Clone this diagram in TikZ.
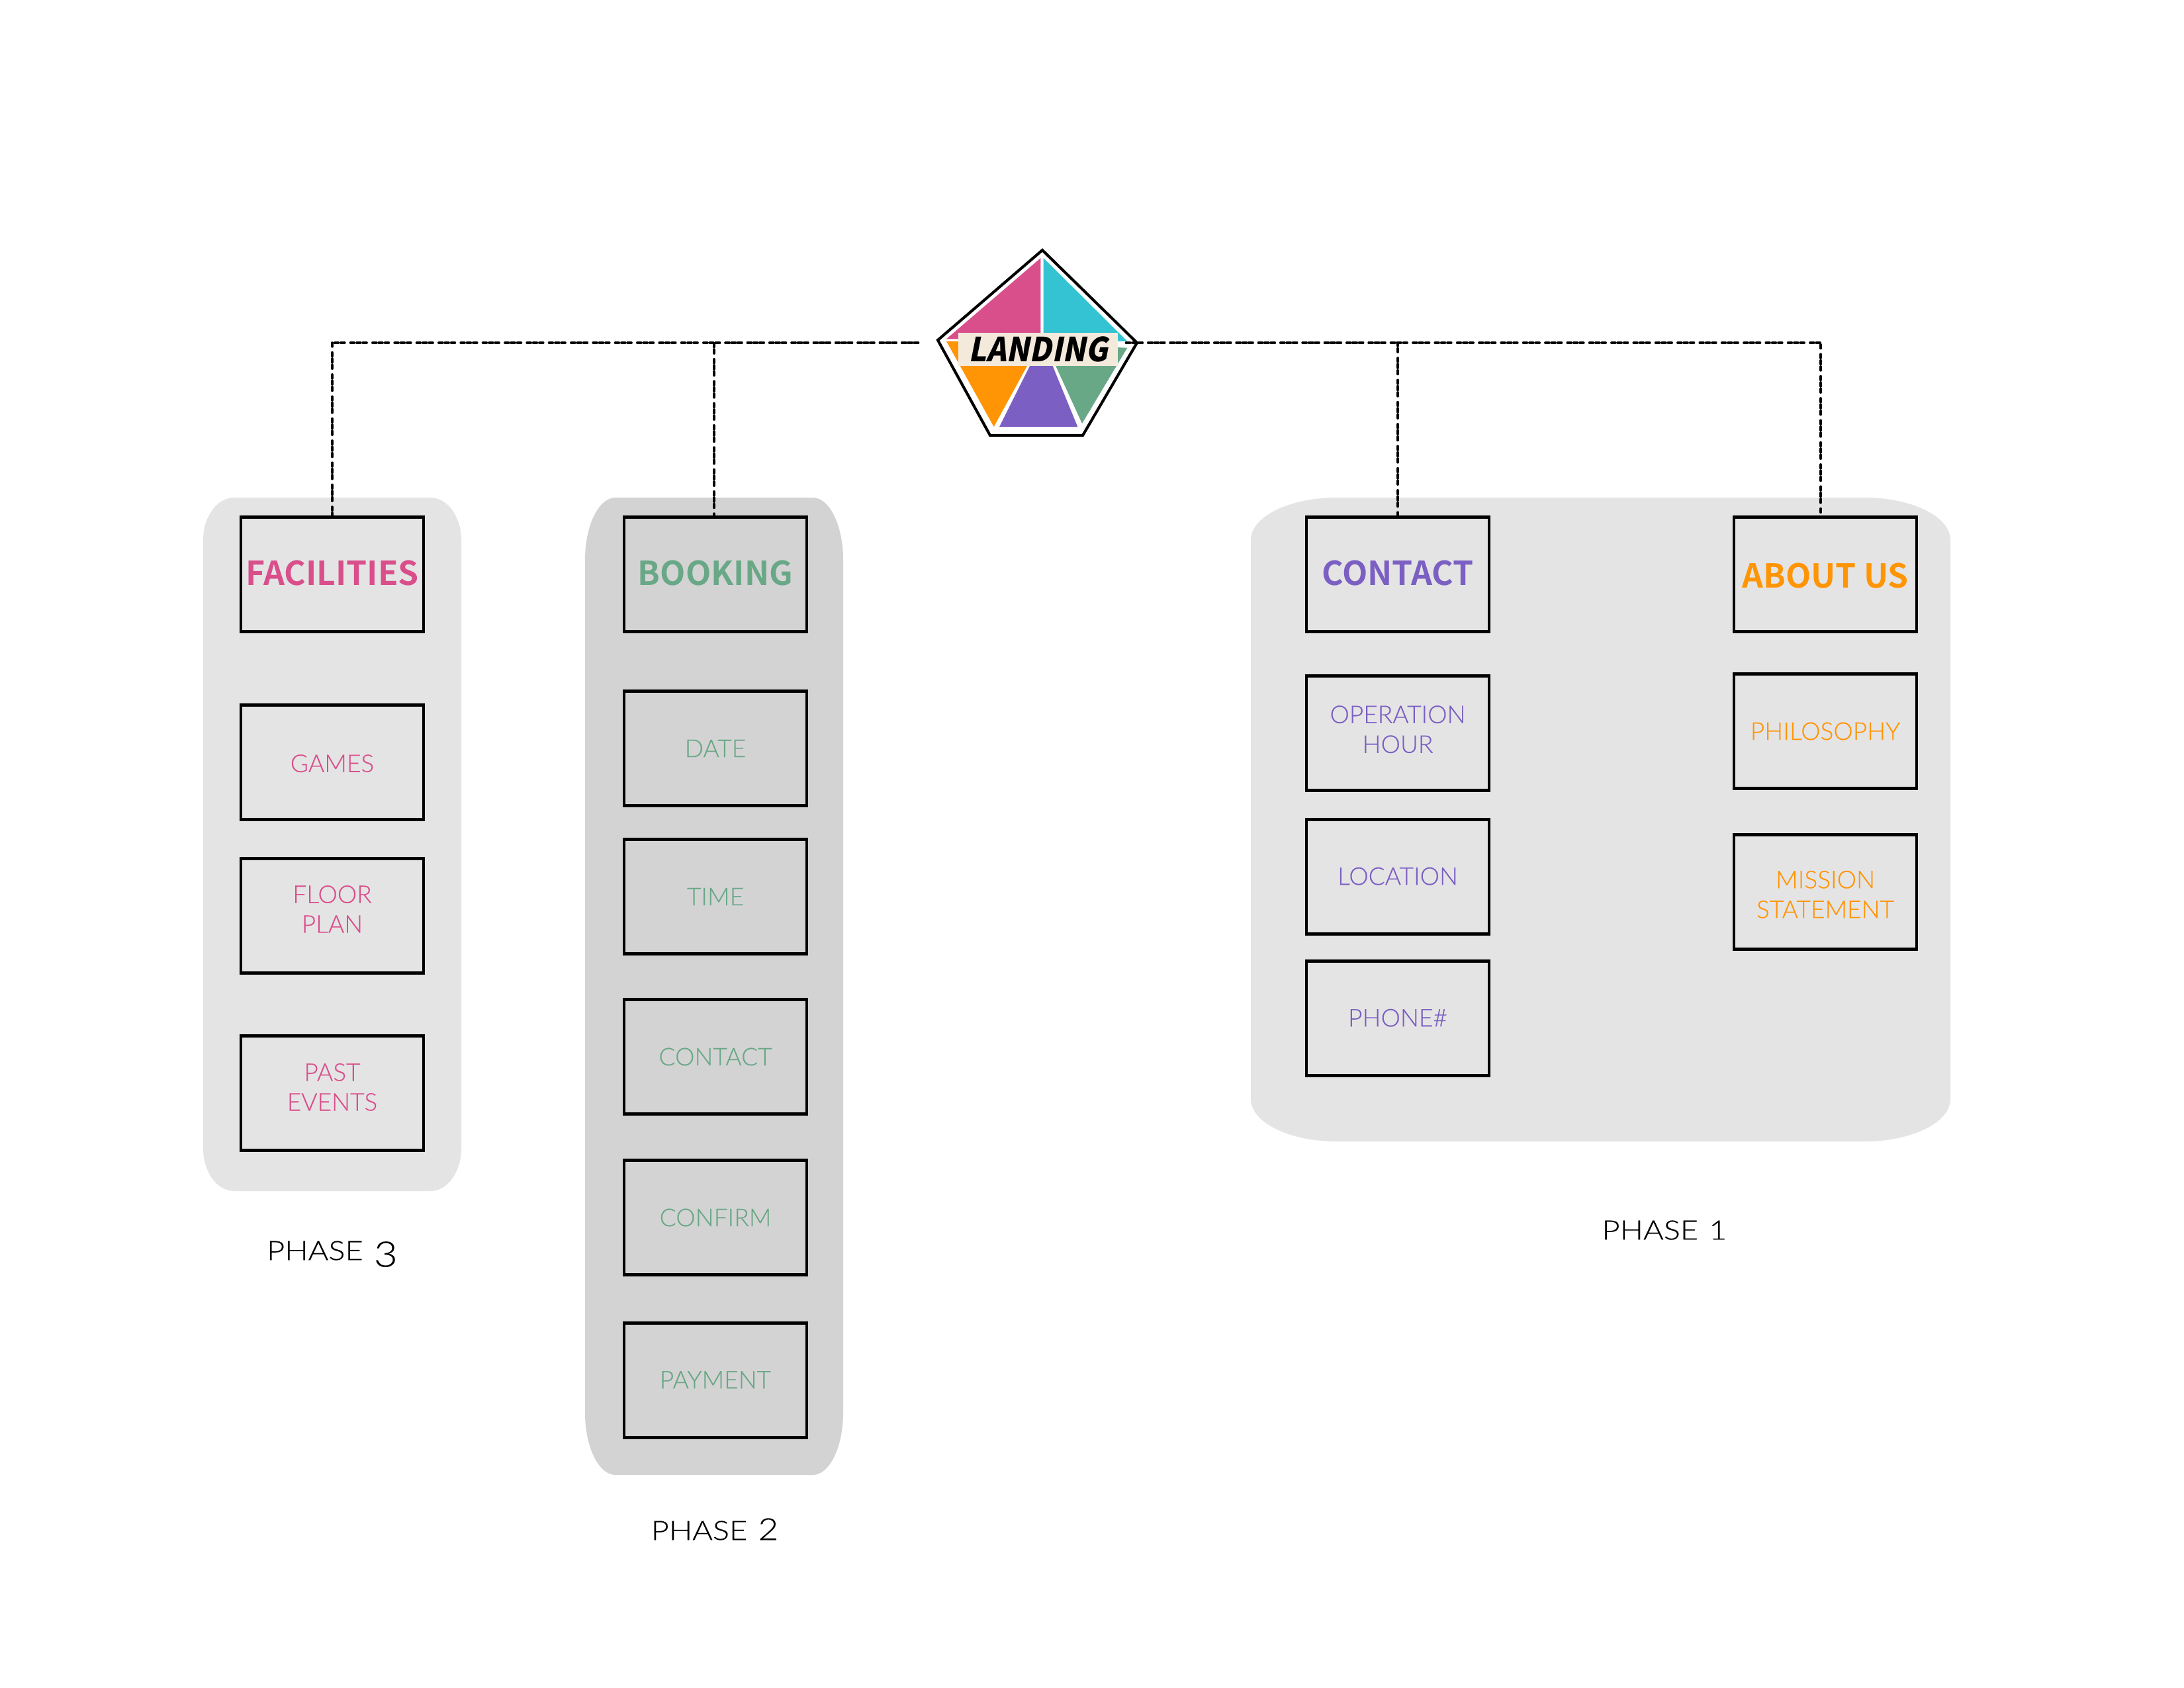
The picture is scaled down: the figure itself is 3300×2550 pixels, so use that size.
\documentclass[tikz,border=0pt]{standalone}
\usepackage{fontspec}
\setmainfont{Lato}
\newfontfamily\lightf{Lato Light}[FakeBold=0.3]
\newfontfamily\phasef{Lato Light}[FakeBold=0.3,FakeStretch=1.16]
\newfontfamily\headf{Noto Sans CJK SC Bold}
\newfontfamily\logof{Noto Sans CJK SC Black}[FakeSlant=0.2,FakeStretch=0.915]
\definecolor{cpink}{HTML}{D94F8B}
\definecolor{cteal}{HTML}{33C3D3}
\definecolor{corange}{HTML}{FF9505}
\definecolor{cpurple}{HTML}{7B5FC2}
\definecolor{cgreen}{HTML}{69A887}
\definecolor{cpanel}{HTML}{E5E4E5}
\definecolor{cpaneldark}{HTML}{D4D3D4}
\definecolor{clabel}{HTML}{F3EADC}
\newcommand{\panelshape}[7]{%
  \pgfmathsetmacro{\kx}{0.4477*#5}\pgfmathsetmacro{\ky}{0.4477*#6}%
  \pgfmathsetmacro{\xa}{#1+#5}\pgfmathsetmacro{\xb}{#3-#5}%
  \pgfmathsetmacro{\ya}{#2+#6}\pgfmathsetmacro{\yb}{#4-#6}%
  \pgfmathsetmacro{\xc}{#1+\kx}\pgfmathsetmacro{\xd}{#3-\kx}%
  \pgfmathsetmacro{\yc}{#2+\ky}\pgfmathsetmacro{\yd}{#4-\ky}%
  \fill[#7] (\xa,#2) -- (\xb,#2) .. controls (\xd,#2) and (#3,\yc) .. (#3,\ya)
    -- (#3,\yb) .. controls (#3,\yd) and (\xd,#4) .. (\xb,#4)
    -- (\xa,#4) .. controls (\xc,#4) and (#1,\yd) .. (#1,\yb)
    -- (#1,\ya) .. controls (#1,\yc) and (\xc,#2) .. (\xa,#2) -- cycle;}
\newcommand{\twolines}[3]{\raisebox{#1}[\height][\depth]{\begin{tabular}{@{}c@{}}#2\\#3\end{tabular}}}
\newcommand{\lifted}[2]{\raisebox{#1}[\height][\depth]{#2}}
\tikzset{
  pagebox/.style={draw=black,line width=1pt,minimum width=66.2pt,minimum height=41.5pt,inner sep=0pt,align=center,outer sep=0.5pt},
  headbox/.style={pagebox,font=\headf\fontsize{11.95}{15}\selectfont},
  itembox/.style={pagebox,font=\lightf\fontsize{8.9}{10.8}\selectfont},
  phasetext/.style={font=\phasef\fontsize{9.7}{11}\selectfont,text=black,inner sep=0pt},
  link/.style={draw=black,line width=1.08pt,line cap=round,dash pattern=on 1.2pt off 1.05pt on 1.2pt off 1.05pt on 1.2pt off 2.3pt}
}
\begin{document}
\begin{tikzpicture}[x=0.24pt,y=-0.24pt]
\useasboundingbox (0,0) rectangle (3300,2550);
\fill[white] (0,0) rectangle (3300,2550);
% panels
\panelshape{307}{752}{697}{1800}{47}{64}{cpanel}
\panelshape{884}{752}{1274}{2229}{46}{94}{cpaneldark}
\panelshape{1890}{752}{2947}{1725}{130}{64}{cpanel}
% nodes
\node[headbox,text=cpink] (fac) at (502,868) {\lifted{0.4pt}{FACILITIES}};
\node[itembox,text=cpink] (games) at (502,1152) {\lifted{-0.4pt}{GAMES}};
\node[itembox,text=cpink] (floor) at (502,1384) {\twolines{1.4pt}{FLOOR}{PLAN}};
\node[itembox,text=cpink] (past) at (502,1652) {\twolines{1.2pt}{PAST}{EVENTS}};
\node[headbox,text=cgreen] (book) at (1081,868) {\lifted{0.4pt}{BOOKING}};
\node[itembox,text=cgreen] (date) at (1081,1131) {DATE};
\node[itembox,text=cgreen] (time) at (1081,1355) {TIME};
\node[itembox,text=cgreen] (bcontact) at (1081,1597) {CONTACT};
\node[itembox,text=cgreen] (confirm) at (1081,1840) {CONFIRM};
\node[itembox,text=cgreen] (pay) at (1081,2086) {\lifted{0.2pt}{PAYMENT}};
\node[headbox,text=cpurple] (contact) at (2112,868) {\lifted{0.4pt}{CONTACT}};
\node[itembox,text=cpurple] (hour) at (2112,1108) {\twolines{0.4pt}{OPERATION}{HOUR}};
\node[itembox,text=cpurple] (loc) at (2112,1325) {\lifted{0.2pt}{LOCATION}};
\node[itembox,text=cpurple] (phone) at (2112,1539) {\lifted{0.2pt}{PHONE\#}};
\node[headbox,text=corange] (about) at (2758,868) {\lifted{-0.4pt}{ABOUT US}};
\node[itembox,text=corange] (phil) at (2758,1105) {PHILOSOPHY};
\node[itembox,text=corange] (mission) at (2758,1348) {\twolines{-1.9pt}{MISSION}{STATEMENT}};
\node[phasetext] (p3) at (502,1890) {PHASE\hspace{3.9pt}\raisebox{-2.4pt}[0pt][0pt]{\fontsize{12.8}{13}\selectfont 3}};
\node[phasetext] (p2) at (1080,2311) {PHASE\hspace{3.9pt}\fontsize{11}{11}\selectfont 2};
\node[phasetext] (p1) at (2515,1859) {PHASE\hspace{3.9pt}1};
% logo
\draw[black,line width=1pt,fill=white] (1575,378) -- (1718,518) -- (1636,658) -- (1496,658) -- (1417,514) -- cycle;
\fill[cpink] (1572.3,390) -- (1572.3,512.3) -- (1430,512.3) -- cycle;
\fill[cteal] (1576.7,390) -- (1703.3,515.7) -- (1576.7,515.7) -- cycle;
\fill[corange] (1430,515.7) -- (1572.3,515.7) -- (1501.7,645) -- cycle;
\fill[cpurple] (1575,515) -- (1628.3,645) -- (1510,645) -- cycle;
\fill[cgreen] (1580,520) -- (1703.3,525.7) -- (1635,640) -- cycle;
\node[fill=clabel,minimum width=57.8pt,minimum height=12pt,inner sep=0pt,font=\logof\fontsize{12}{15}\selectfont,text=black] (landing) at (1568.7,528.3) {LANDING};
% connectors
\coordinate (linkL) at (1387,518);
\coordinate (linkR) at (1702,518);
\coordinate (aboutEnd) at (2751,776);
\draw[link] (linkL) -| (fac.north);
\draw[link] (linkL) -| ([xshift=-0.5pt]book.north);
\draw[link] (linkR) -| (contact.north);
\draw[link] (linkR) -| (aboutEnd);
\end{tikzpicture}
\end{document}
